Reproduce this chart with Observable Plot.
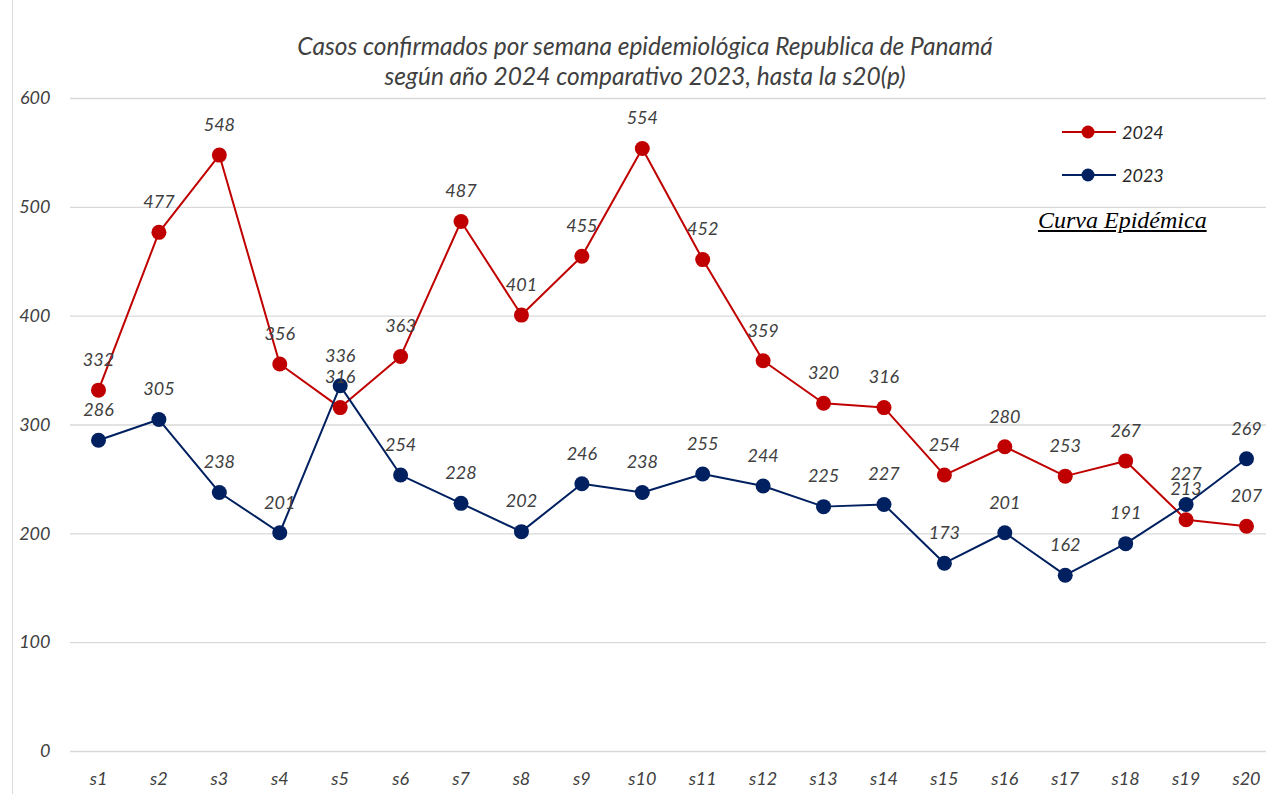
<!DOCTYPE html>
<html><head><meta charset="utf-8">
<script src="https://cdn.jsdelivr.net/npm/d3@7"></script>
<script src="https://cdn.jsdelivr.net/npm/@observablehq/plot@0.6"></script>
<style>
html,body{margin:0;padding:0;background:#fff;}
#wrap{position:relative;width:1266px;height:794px;overflow:hidden;font-family:Lato,"Open Sans",sans-serif;}
#title{position:absolute;left:0;width:1290px;top:31px;text-align:center;font-style:italic;font-size:24.5px;line-height:30px;color:#404040;}
#border{position:absolute;left:12px;top:0;width:1px;height:794px;background:#d9d9d9;}
#legend{position:absolute;left:1062px;top:118px;font-style:italic;font-size:18px;color:#262626;}
.li{display:flex;align-items:center;height:28px;margin-bottom:15px;}
.li span{margin-left:6px;}
#curva{position:absolute;left:1038px;top:207px;font-family:"Liberation Serif","DejaVu Serif",serif;font-style:italic;font-size:24px;text-decoration:underline;color:#000;}
</style></head>
<body>
<div id="wrap">
<div id="border"></div>
<div id="chart"></div>
<div id="title">Casos confirmados por semana epidemiológica Republica de Panamá<br>según año 2024 comparativo 2023, hasta la s20(p)</div>
<div id="legend"></div>
<div id="curva">Curva Epidémica</div>
</div>
<script>
const weeks = ["s1","s2","s3","s4","s5","s6","s7","s8","s9","s10","s11","s12","s13","s14","s15","s16","s17","s18","s19","s20"];
const cases2024 = [332,477,548,356,316,363,487,401,455,554,452,359,320,316,254,280,253,267,213,207];
const cases2023 = [286,305,238,201,336,254,228,202,246,238,255,244,225,227,173,201,162,191,227,269];
const yTicks = [0,100,200,300,400,500,600];
const seriesNames = ["2024","2023"];
const seriesColors = ["#C00000","#002060"];

const data = [];
weeks.forEach((w,i)=>{
  data.push({week:w, value:cases2024[i], serie:"2024"});
  data.push({week:w, value:cases2023[i], serie:"2023"});
});

const chart = Plot.plot({
  width:1266, height:794,
  marginLeft:70, marginRight:0, marginTop:98, marginBottom:43,
  style:{fontFamily:"Lato, 'Open Sans', sans-serif", fontStyle:"italic", background:"transparent"},
  x:{type:"point", domain:weeks, range:[98,1246], padding:0, round:false},
  y:{domain:[0,600]},
  color:{domain:seriesNames, range:seriesColors},
  marks:[
    Plot.ruleY(yTicks,{stroke:"#d9d9d9", strokeWidth:1.3}),
    Plot.axisY(yTicks,{tickSize:0, tickPadding:20, fontSize:18, fill:"#404040", label:null, textAnchor:"end"}),
    Plot.axisX({tickSize:0, tickPadding:21, fontSize:18, fill:"#404040", label:null}),
    Plot.line(data,{x:"week", y:"value", z:"serie", stroke:"serie", strokeWidth:2}),
    Plot.dot(data,{x:"week", y:"value", fill:"serie", r:7.5}),
    Plot.text(data,{x:"week", y:"value", text:d=>String(d.value), dy:-30, fontSize:18, fill:"#404040"})
  ]
});
document.getElementById("chart").appendChild(chart);

const leg = document.getElementById("legend");
seriesNames.forEach((n,i)=>{
  const div=document.createElement("div"); div.className="li";
  div.innerHTML=`<svg width="54" height="16"><line x1="0" x2="54" y1="8" y2="8" stroke="${seriesColors[i]}" stroke-width="2"/><circle cx="26" cy="8" r="6.5" fill="${seriesColors[i]}"/></svg><span>${n}</span>`;
  leg.appendChild(div);
});
</script>
</body></html>
